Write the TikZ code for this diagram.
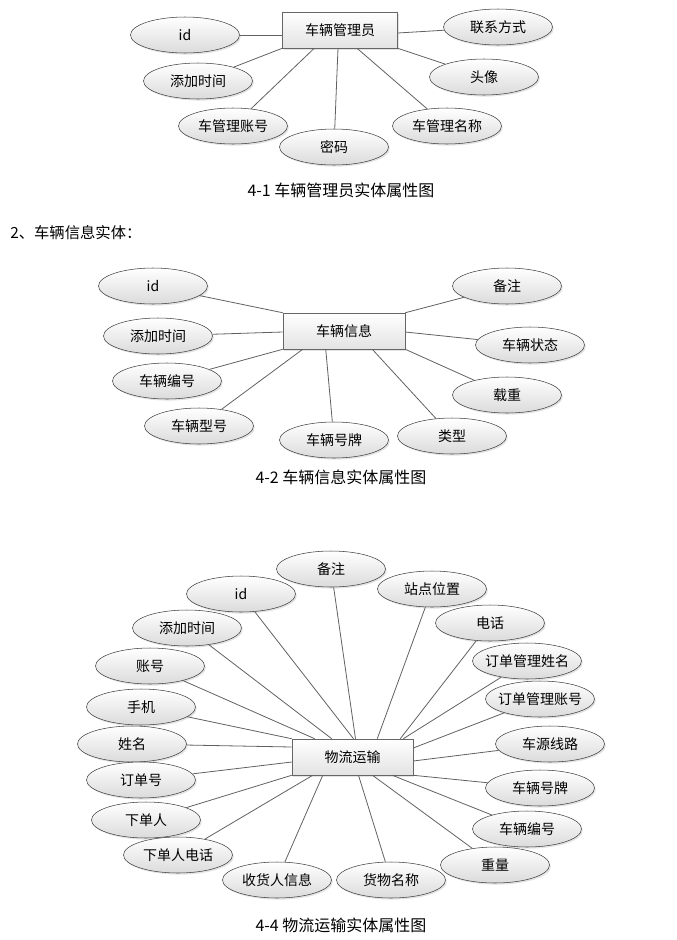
\documentclass[tikz,border=0pt]{standalone}
\usepackage{fontspec}
\newfontfamily\cjk{Noto Sans CJK SC}
\usepackage{tikz}
\usetikzlibrary{calc,shapes.geometric,shadows}

\begin{document}
\begin{tikzpicture}[
  x=0.75pt,
  y=-0.75pt,
  attr/.style={
    ellipse,
    draw=black!75,
    top color=white,
    bottom color=black!14,
    drop shadow={shadow xshift=1pt, shadow yshift=-1.2pt, opacity=0.22},
    minimum width=81.75pt,
    minimum height=27pt,
    inner xsep=-5pt,
    inner ysep=0pt,
    font=\cjk\fontsize{10.5}{12}\selectfont
  },
  entity/.style={
    rectangle,
    draw=black!60,
    top color=white,
    bottom color=black!11,
    drop shadow={shadow xshift=1pt, shadow yshift=-1.2pt, opacity=0.22},
    minimum width=90.75pt,
    minimum height=27pt,
    inner sep=0pt,
    font=\cjk\fontsize{10.5}{12}\selectfont
  },
  caption/.style={
    font=\cjk\fontsize{12}{14}\selectfont,
    inner sep=0pt
  },
  link/.style={draw=black!62, line width=0.6pt}
]
\useasboundingbox (0, 0) rectangle (677, 940);

\node[entity, minimum width=86.25pt] (mgr) at (340, 30) {车辆管理员};
\node[attr] (mgrid) at (185, 35) {id};
\node[attr] (mgrtime) at (198, 81) {添加时间};
\node[attr] (mgracct) at (233, 126) {车管理账号};
\node[attr] (mgrpwd) at (334, 147) {密码};
\node[attr] (mgrname) at (447, 126) {车管理名称};
\node[attr] (mgrphoto) at (484, 77) {头像};
\node[attr] (mgrcontact) at (498, 27) {联系方式};
\node[caption] (cap1) at (341, 190) {4-1 车辆管理员实体属性图};

\node[caption, anchor=west, font=\cjk\fontsize{11.5}{14}\selectfont] (head2) at (10, 233)
  {2、车辆信息实体：};

\node[entity, minimum width=91.5pt] (car) at (344, 331) {车辆信息};
\node[attr] (carid) at (153, 286) {id};
\node[attr] (cartime) at (158, 336) {添加时间};
\node[attr] (carno) at (167, 381) {车辆编号};
\node[attr] (carmodel) at (199, 426) {车辆型号};
\node[attr] (carplate) at (334, 440) {车辆号牌};
\node[attr] (cartype) at (452, 436) {类型};
\node[attr] (carload) at (507, 395) {载重};
\node[attr] (carstate) at (530, 345) {车辆状态};
\node[attr] (carnote) at (507, 286) {备注};
\node[caption] (cap2) at (341, 477) {4-2 车辆信息实体属性图};

\node[entity] (ship) at (352.5, 757) {物流运输};
\node[attr] (shipnote) at (331, 569) {备注};
\node[attr] (shipid) at (241, 594) {id};
\node[attr] (shiptime) at (187, 628) {添加时间};
\node[attr] (shipacct) at (150, 666) {账号};
\node[attr] (shipmobile) at (141, 707) {手机};
\node[attr] (shipname) at (132, 744) {姓名};
\node[attr] (shiporder) at (141, 780) {订单号};
\node[attr] (shipbuyer) at (146, 820) {下单人};
\node[attr] (shipbuyertel) at (178, 855) {下单人电话};
\node[attr] (shiprecv) at (277, 880) {收货人信息};
\node[attr] (shipgoods) at (391, 880) {货物名称};
\node[attr] (shipweight) at (495, 865) {重量};
\node[attr] (shipcarno) at (527, 829) {车辆编号};
\node[attr] (shipplate) at (540, 788) {车辆号牌};
\node[attr] (shiproute) at (550, 744) {车源线路};
\node[attr] (shipoacct) at (540, 699) {订单管理账号};
\node[attr] (shiponame) at (527, 661) {订单管理姓名};
\node[attr] (shiptel) at (490, 623) {电话};
\node[attr] (shipsite) at (432, 589) {站点位置};
\node[caption] (cap4) at (341, 925) {4-4 物流运输实体属性图};

\draw[link] ($(mgr.west)+(0, 5)$) -- (mgrid);
\draw[link] (mgr.south west) -- (mgrtime);
\draw[link] ($(mgr.south west)+(32, 0)$) -- (mgracct);
\draw[link] ($(mgr.south)+(-2, 0)$) -- (mgrpwd);
\draw[link] ($(mgr.south)+(17, 0)$) -- (mgrname);
\draw[link] (mgr.south east) -- (mgrphoto);
\draw[link] ($(mgr.east)+(0, 3)$) -- (mgrcontact);

\draw[link] (car.north west) -- (carid);
\draw[link] ($(car.west)+(0, 1)$) -- (cartime);
\draw[link] (car.south west) -- (carno);
\draw[link] ($(car.south west)+(20, 0)$) -- (carmodel);
\draw[link] ($(car.south west)+(43, 0)$) -- (carplate);
\draw[link] ($(car.south east)+(-33, 0)$) -- (cartype);
\draw[link] (car.south east) -- (carload);
\draw[link] ($(car.east)+(0, 1)$) -- (carstate);
\draw[link] (car.north east) -- (carnote);

\draw[link] ($(ship.north)+(3, 0)$) -- (shipnote);
\draw[link] ($(ship.north)+(1, 0)$) -- (shipid);
\draw[link] ($(ship.north west)+(40, 0)$) -- (shiptime);
\draw[link] ($(ship.north west)+(23, 0)$) -- (shipacct);
\draw[link] (ship.north west) -- (shipmobile);
\draw[link] ($(ship.west)+(0, -10)$) -- (shipname);
\draw[link] ($(ship.west)+(0, 5)$) -- (shiporder);
\draw[link] (ship.south west) -- (shipbuyer);
\draw[link] ($(ship.south west)+(21, 0)$) -- (shipbuyertel);
\draw[link] ($(ship.south west)+(31, 0)$) -- (shiprecv);
\draw[link] ($(ship.south)+(6, 0)$) -- (shipgoods);
\draw[link] ($(ship.south)+(20, 0)$) -- (shipweight);
\draw[link] ($(ship.south east)+(-21, 0)$) -- (shipcarno);
\draw[link] (ship.south east) -- (shipplate);
\draw[link] ($(ship.east)+(0, 4)$) -- (shiproute);
\draw[link] ($(ship.east)+(0, -9)$) -- (shipoacct);
\draw[link] ($(ship.north east)+(-10, 0)$) -- (shiponame);
\draw[link] ($(ship.north east)+(-13, 0)$) -- (shiptel);
\draw[link] ($(ship.north east)+(-36, 0)$) -- (shipsite);
\end{tikzpicture}
\end{document}
